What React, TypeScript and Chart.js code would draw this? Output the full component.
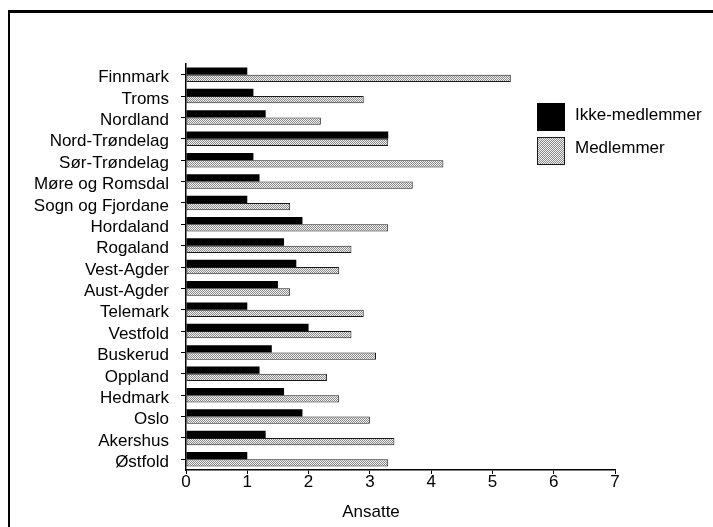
import { useEffect, useRef } from "react";
import { Chart, registerables, type Plugin } from "chart.js";

Chart.register(...registerables);

const fylker = [
  "Finnmark", "Troms", "Nordland", "Nord-Trøndelag", "Sør-Trøndelag",
  "Møre og Romsdal", "Sogn og Fjordane", "Hordaland", "Rogaland", "Vest-Agder",
  "Aust-Agder", "Telemark", "Vestfold", "Buskerud", "Oppland",
  "Hedmark", "Oslo", "Akershus", "Østfold",
];

const ikkeMedlemmer = [1.0, 1.1, 1.3, 3.3, 1.1, 1.2, 1.0, 1.9, 1.6, 1.8, 1.5, 1.0, 2.0, 1.4, 1.2, 1.6, 1.9, 1.3, 1.0];
const medlemmer = [5.3, 2.9, 2.2, 3.3, 4.2, 3.7, 1.7, 3.3, 2.7, 2.5, 1.7, 2.9, 2.7, 3.1, 2.3, 2.5, 3.0, 3.4, 3.3];

const xMin = 0;
const xMax = 7;

const FONT = "'Liberation Sans', Arial, sans-serif";

// small stipple used for the "Medlemmer" bars
function makeStipple(): CanvasPattern | string {
  const c = document.createElement("canvas");
  c.width = 2;
  c.height = 2;
  const g = c.getContext("2d");
  if (!g) return "#cccccc";
  g.fillStyle = "#f2f2f2";
  g.fillRect(0, 0, 2, 2);
  g.fillStyle = "#8a8a8a";
  g.fillRect(0, 0, 1, 1);
  g.fillRect(1, 1, 1, 1);
  return g.createPattern(c, "repeat") ?? "#cccccc";
}

const whiteBg: Plugin<"bar"> = {
  id: "whiteBg",
  beforeDraw(chart) {
    const { ctx, width, height } = chart;
    ctx.save();
    ctx.fillStyle = "#ffffff";
    ctx.fillRect(0, 0, width, height);
    ctx.restore();
  },
};

export default function App() {
  const canvasRef = useRef<HTMLCanvasElement>(null);

  useEffect(() => {
    document.body.style.margin = "0";
    if (!canvasRef.current) return;
    const stipple = makeStipple();

    const chart = new Chart(canvasRef.current, {
      type: "bar",
      plugins: [whiteBg],
      data: {
        labels: fylker,
        datasets: [
          {
            label: "Ikke-medlemmer",
            data: ikkeMedlemmer,
            backgroundColor: "#000000",
            borderWidth: 0,
          },
          {
            label: "Medlemmer",
            data: medlemmer,
            backgroundColor: stipple,
            borderColor: "#1a1a1a",
            borderWidth: 1,
            borderSkipped: false,
          },
        ],
      },
      options: {
        indexAxis: "y",
        animation: false,
        responsive: false,
        events: [],
        layout: { padding: { top: 64, right: 98, bottom: 0, left: 0 } },
        datasets: {
          bar: { categoryPercentage: 0.68, barPercentage: 1 },
        },
        plugins: {
          legend: { display: false },
          tooltip: { enabled: false },
        },
        scales: {
          y: {
            grid: { drawOnChartArea: false, offset: false, tickLength: 5, color: "#000" },
            border: { color: "#000", width: 1.5 },
            ticks: {
              autoSkip: false,
              color: "#000",
              font: { family: FONT, size: 17 },
              padding: 12,
              labelOffset: 3,
            },
            afterFit: (scale) => {
              scale.width = 186;
            },
          },
          x: {
            min: xMin,
            max: xMax,
            grid: { drawOnChartArea: false, tickLength: 4, color: "#000" },
            border: { color: "#000", width: 1.5 },
            ticks: {
              stepSize: 1,
              color: "#000",
              font: { family: FONT, size: 17, lineHeight: 1 },
              padding: 0,
            },
            afterFit: (scale) => {
              scale.height = 57;
            },
          },
        },
      },
    });

    return () => chart.destroy();
  }, []);

  const text = { position: "absolute" as const, fontFamily: FONT, fontSize: 17, lineHeight: "20px", color: "#000", whiteSpace: "nowrap" as const };

  return (
    <div style={{ position: "relative", width: 713, height: 527, overflow: "hidden", background: "#fff" }}>
      <canvas ref={canvasRef} width={713} height={527} style={{ position: "absolute", left: 0, top: 0 }} />
      {/* frame, cut off at right and bottom */}
      <div style={{ position: "absolute", left: 8, top: 10, right: -5, bottom: -5, borderTop: "3px solid #000", borderLeft: "2px solid #000" }} />

      {/* legend */}
      <div style={{ position: "absolute", left: 537, top: 103, width: 28, height: 28, background: "#000" }} />
      <div style={{ ...text, left: 575, top: 105 }}>Ikke-medlemmer</div>
      <div style={{
        position: "absolute", left: 537, top: 137, width: 26, height: 26,
        border: "1px solid #1a1a1a",
        background: "repeating-conic-gradient(#8a8a8a 0 25%, #f2f2f2 0 50%) 0 0 / 2px 2px",
      }} />
      <div style={{ ...text, left: 575, top: 138 }}>Medlemmer</div>

      {/* x axis title */}
      <div style={{ ...text, left: 371, top: 502, transform: "translateX(-50%)" }}>Ansatte</div>
    </div>
  );
}
